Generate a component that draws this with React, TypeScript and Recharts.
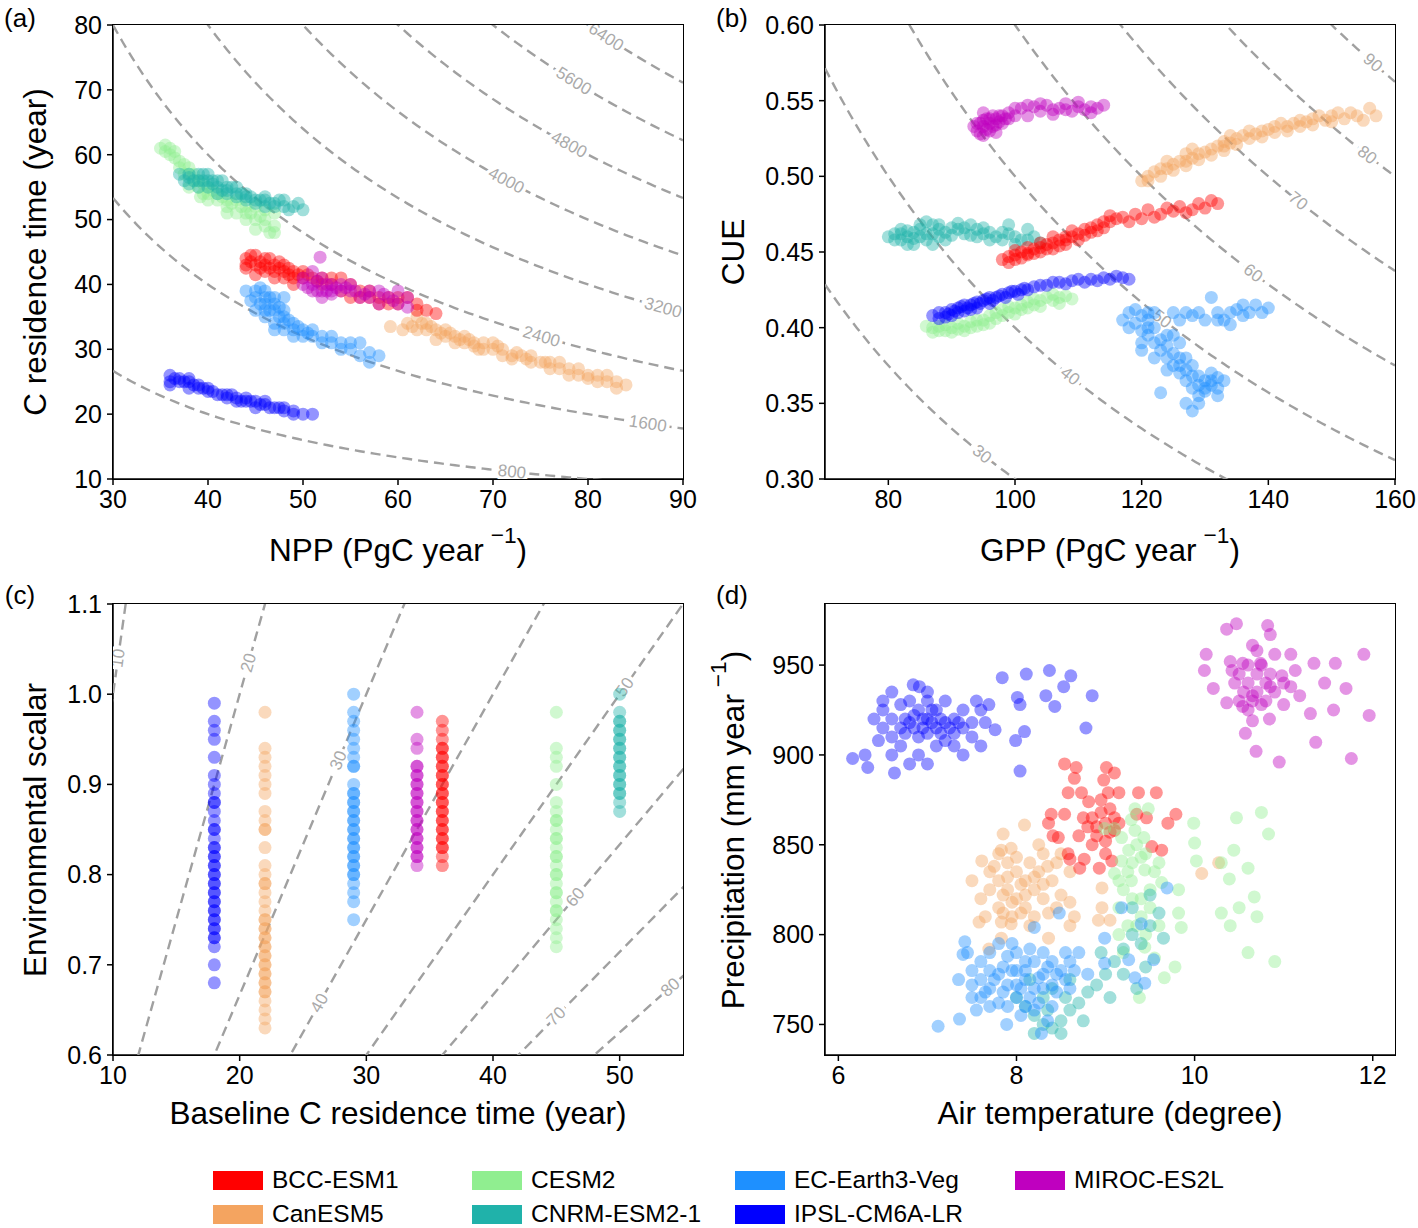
import { ScatterChart, Scatter, XAxis, YAxis } from "recharts";

type Pt = [number, number];

const MODEL_NAMES = ["BCC-ESM1", "CanESM5", "CESM2", "CNRM-ESM2-1", "EC-Earth3-Veg", "IPSL-CM6A-LR", "MIROC-ES2L"];
const MODEL_COLORS = ["#ff0000", "#f4a460", "#90ee90", "#20b2aa", "#1e90ff", "#0000ff", "#bf00bf"];

// (a) NPP vs C residence time
const aBCC: Pt[] = [[44,43],[44,44],[44.5,43.5],[45,43],[45,44.5],[45.5,42.5],[46,43],[46,42],[46.5,44],[47,43],[47,42],[47.5,42.5],[48,42],[48,43],[48.5,41.5],[49,42],[49,41],[50,41],[50,42],[51,41],[52,41],[52,40],[53,40],[54,41],[54,39],[55,40],[55,38],[56,39],[57,39],[57,38],[58,38],[59,38],[60,37],[61,38],[62,37],[63,36],[64,35.5],[45,41.5],[47,41],[49,40],
  [44.5,44.5],[45.5,43.5],[46.5,42.5],[47.5,43.5],[48.5,42.5],[49.5,41.5],[50.5,41.5],[51.5,40.5],[53,41],[56,38],[58,37],[59,37],[60,38],[62,36],[44,42.5],[46,44],[48,41]];
const aCan: Pt[] = [[59.2,33.5],[60.5,33],[61,34],[62,35],[62,33],[63,33],[63,34],[64,33],[65,33],[65,32],[66,32],[66,31],[67,32],[67,31],[68,31],[68.5,30],[69,31],[69,30],[70,30],[70,31],[71,30],[71,29],[72,29],[72,28.5],[73,29],[74,28],[74,29],[75,28],[76,27],[76,28],[77,27],[78,27],[78,26],[79,26],[80,26],[81,26],[81,25],[82,25],[83,25],[83,24],[64,31.5],
  [61.5,33.5],[62.5,34],[63.5,33.5],[64.5,32.5],[65.5,32.5],[66.5,31.5],[67.5,31.5],[68,30.5],[70.5,30.5],[72.5,29.5],[73.5,28.5],[75.5,28],[77,28],[79,27],[80,25.5],[82,26],[84,24.5]];
const aCESM2: Pt[] = [[35,61],[35.5,60.5],[36,60],[36,61],[36.5,59.5],[37,59],[37,58],[37.5,57],[38,57],[38,58],[39,56],[39,55],[39.2,53.5],[39.5,54],[40,55],[40,54],[41,54],[41,53],[42,53],[42,52],[43,53],[43,51],[44,52],[44,51],[44,50],[45,50],[45,52],[45,48.5],[46,50],[46,49],[46.5,48],[47,49],[47,51],
  [35.5,61.5],[36.5,60.5],[37.5,58.5],[38.5,57],[38.5,56],[39.5,55.5],[40.5,54.5],[41.5,53.5],[42.5,52.5],[43.5,52],[44.5,51],[45.5,50.5],[46,51.5],[42,51],[40,53],[38,55],[47,48]];
const aCNRM: Pt[] = [[37,57],[37.5,56],[38,56.5],[38,55.5],[39,56],[39,55],[39.5,57],[40,56],[40,55],[41,55],[41,54],[41.5,56],[42,54.5],[42,54],[43,54],[43,53.5],[44,53.5],[44,53],[45,53],[45,52.5],[46,53],[46,52],[47,52.5],[47,52],[48,53],[48,52],[48.5,51.5],[49,52],[49.5,52.5],[50,51.5],[40.5,55.5],[42.5,55],
  [38.5,56],[39.5,56],[40,57],[40.5,56],[41,56],[42,55],[43,55],[43.5,54],[44.5,53.5],[45.5,53],[46.5,52.5],[47.5,53],[38,57],[39,57],[41.5,54.5],[44,54],[46,53.5]];
const aEC: Pt[] = [[44,39],[45,38],[45,36],[45,39],[46,37],[46,35],[46,38],[47,36],[47,34],[47,37],[47,33],[48,35],[48,33],[48,36],[48,38],[49,34],[49,33],[49,32],[50,33],[50,32],[51,32],[51,33],[52,31],[53,32],[53,31],[54,30],[54,31],[55,30],[56,29],[56,31],[57,28],[58,29],[46.5,36],[47.5,35],
  [44.5,37.5],[45.5,37],[46,36],[46.5,38],[47.5,36.5],[48.5,34.5],[49.5,33.5],[50.5,32.5],[52,32],[55,31],[46,39],[47,38],[45.5,39.5],[48,34],[57,29.5]];
const aIPSL: Pt[] = [[36,26],[36,25],[37,25.5],[37,25],[38,25],[38,24],[39,24],[39,24.5],[40,23.5],[40,24],[41,23],[42,23],[42,22.5],[43,22.5],[43,22],[44,22],[44,22.5],[45,22],[45,21],[46,21.5],[46,22],[47,21],[48,21],[48,20.5],[49,20.5],[50,20],[51,20],
  [36.5,25.5],[37.5,25],[38.5,24.5],[39.5,24],[40.5,23.5],[41.5,23],[42.5,23],[43.5,22],[44.5,22],[45.5,21.5],[46.5,21],[47.5,21],[49,20],[36,24.5],[38,25.5]];
const aMIROC: Pt[] = [[50,40],[50,41],[51,42],[51,40],[51,39],[51.8,44.2],[52,41],[52,39],[52,38],[53,40],[53,39],[54,40],[54,39],[55,40],[55,39],[56,38],[57,39],[57,38],[58,39],[58,37],[59,38],[60,39],[60,37],[61,38],[61,36.5],[51.5,40.5],[52.5,40],
  [51.5,39],[52.5,39],[53.5,39.5],[54.5,39.5],[55.5,39],[56.5,38.5],[58.5,38.5],[59.5,37.5],[53,38.5],[50.5,39.5]];

// (b) GPP vs CUE
const bBCC: Pt[] = [[98,0.445],[99,0.447],[100,0.448],[100,0.445],[101,0.45],[102,0.449],[102,0.453],[103,0.452],[104,0.453],[104,0.45],[105,0.455],[106,0.456],[106,0.452],[107,0.458],[108,0.46],[108,0.455],[109,0.46],[110,0.462],[111,0.465],[112,0.466],[113,0.468],[114,0.47],[115,0.47],[116,0.472],[117,0.473],[119,0.475],[120,0.472],[121,0.478],[123,0.475],[124,0.479],[125,0.477],[126,0.48],[128,0.478],[129,0.482],[131,0.484],[132,0.482],
  [99,0.443],[100,0.451],[101,0.446],[102,0.448],[103,0.449],[104,0.456],[105,0.452],[106,0.46],[107,0.454],[108,0.458],[109,0.464],[110,0.458],[111,0.461],[112,0.463],[113,0.464],[114,0.466],[115,0.474],[118,0.47],[122,0.473],[127,0.476],[130,0.479]];
const bCan: Pt[] = [[120,0.497],[121,0.5],[122,0.503],[123,0.505],[124,0.505],[125,0.508],[126,0.51],[127,0.51],[127,0.515],[128,0.512],[129,0.515],[130,0.516],[131,0.518],[132,0.52],[133,0.52],[133,0.523],[134,0.522],[135,0.525],[136,0.527],[137,0.53],[138,0.528],[139,0.53],[140,0.531],[141,0.533],[142,0.535],[143,0.533],[144,0.535],[145,0.537],[146,0.536],[147,0.538],[148,0.54],[149,0.537],[150,0.54],[151,0.542],[152,0.538],[154,0.54],[156,0.545],[157,0.54],
  [121,0.497],[123,0.5],[125,0.504],[127,0.507],[129,0.511],[131,0.514],[133,0.517],[135,0.521],[137,0.525],[139,0.526],[141,0.529],[143,0.53],[145,0.533],[147,0.534],[150,0.536],[153,0.542],[155,0.537],[124,0.51],[128,0.518],[134,0.527]];
const bCESM2: Pt[] = [[87,0.4],[88,0.401],[89,0.402],[89,0.398],[90,0.4],[91,0.403],[91,0.399],[92,0.401],[93,0.404],[94,0.405],[95,0.405],[95,0.402],[96,0.408],[97,0.41],[98,0.412],[99,0.41],[100,0.413],[101,0.415],[102,0.417],[103,0.415],[104,0.418],[105,0.42],[106,0.418],[107,0.42],[108,0.421],[109,0.419],
  [88,0.398],[90,0.397],[92,0.398],[93,0.4],[94,0.401],[96,0.403],[97,0.406],[98,0.408],[99,0.414],[100,0.409],[101,0.412],[102,0.413],[103,0.419],[104,0.414],[106,0.422],[107,0.416],[86,0.401],[87,0.397]];
const bCNRM: Pt[] = [[80,0.46],[81,0.462],[82,0.465],[82,0.458],[83,0.46],[84,0.463],[84,0.455],[85,0.465],[85,0.46],[86,0.462],[87,0.468],[87,0.455],[88,0.465],[88,0.46],[89,0.463],[90,0.466],[91,0.465],[92,0.462],[93,0.468],[94,0.465],[95,0.462],[96,0.463],[97,0.46],[98,0.458],[99,0.462],[100,0.455],[101,0.458],[102,0.465],[103,0.46],[104,0.456],
  [81,0.458],[82,0.462],[83,0.464],[84,0.459],[85,0.468],[86,0.458],[87,0.462],[88,0.468],[89,0.458],[90,0.461],[91,0.469],[92,0.466],[93,0.461],[94,0.46],[95,0.466],[96,0.458],[98,0.463],[100,0.46],[102,0.458],[99,0.468],[86,0.47],[83,0.455]];
const bEC: Pt[] = [[117,0.405],[118,0.41],[118,0.4],[119,0.403],[120,0.408],[120,0.398],[120,0.385],[121,0.395],[121,0.405],[122,0.39],[122,0.4],[122,0.41],[123,0.392],[123,0.385],[123,0.357],[124,0.388],[124,0.38],[125,0.383],[125,0.375],[125,0.41],[125,0.395],[126,0.38],[126,0.37],[126,0.405],[127,0.372],[127,0.365],[127,0.35],[127,0.41],[128,0.368],[128,0.36],[128,0.345],[128,0.408],[129,0.362],[129,0.355],[129,0.41],[130,0.365],[130,0.36],[130,0.405],[131,0.362],[131,0.42],[132,0.36],[132,0.367],[132,0.41],[133,0.405],[134,0.41],[135,0.412],[136,0.408],[137,0.41],[138,0.415],[140,0.413],
  [119,0.412],[121,0.4],[124,0.395],[126,0.39],[126,0.375],[128,0.375],[129,0.368],[130,0.358],[131,0.365],[132,0.355],[131,0.37],[133,0.365],[129,0.35],[127,0.38],[124,0.372],[122,0.38],[132,0.405],[134,0.402],[136,0.415],[139,0.41],[121,0.41],[120,0.39]];
const bIPSL: Pt[] = [[87,0.408],[88,0.41],[89,0.41],[89,0.407],[90,0.412],[91,0.413],[91,0.41],[92,0.415],[93,0.415],[93,0.412],[94,0.417],[95,0.418],[96,0.42],[97,0.42],[98,0.422],[99,0.423],[100,0.424],[101,0.425],[102,0.425],[103,0.427],[104,0.428],[105,0.428],[106,0.43],[107,0.43],[108,0.429],[109,0.431],[110,0.432],[111,0.43],[112,0.432],[113,0.431],[114,0.433],[115,0.432],[116,0.434],[117,0.433],[118,0.432],
  [88,0.406],[89.5,0.409],[90.5,0.411],[91.5,0.414],[92.5,0.413],[93.5,0.416],[94.5,0.416],[95.5,0.419],[96.5,0.418],[97.5,0.421],[98.5,0.42],[99.5,0.424],[100.5,0.422],[101.5,0.426],[90,0.408],[92,0.411],[94,0.413],[96,0.416]];
const bMIROC: Pt[] = [[94,0.53],[94.5,0.535],[95,0.527],[95,0.533],[95.5,0.538],[96,0.53],[96,0.535],[96.5,0.54],[97,0.534],[97,0.538],[97.5,0.536],[98,0.54],[98.5,0.538],[99,0.542],[100,0.54],[101,0.545],[102,0.54],[103,0.546],[104,0.543],[105,0.547],[106,0.544],[107,0.545],[108,0.548],[109,0.543],[110,0.546],[111,0.544],[112,0.546],[113,0.545],[114,0.547],
  [94,0.535],[94.5,0.528],[95,0.537],[95.5,0.531],[96,0.538],[96.5,0.533],[97,0.529],[97.5,0.54],[98,0.535],[93.5,0.533],[95,0.542],[99,0.538],[100,0.545],[102,0.547],[104,0.548],[106,0.541],[108,0.544],[110,0.549],[112,0.542]];

// (c) baseline residence time vs environmental scalar
const baselineBCC = 36;
const baselineCan = 22;
const baselineCESM2 = 45;
const baselineCNRM = 50;
const baselineEC = 29;
const baselineIPSL = 18;
const baselineMIROC = 34;
const cBCC = [0.97,0.96,0.95,0.94,0.93,0.92,0.91,0.9,0.89,0.88,0.87,0.86,0.85,0.84,0.83,0.82,0.81,0.94,0.93,0.92,0.91,0.9,0.89,0.88,0.87,0.86,0.85,0.84,0.83];
const cCan = [0.98,0.94,0.93,0.92,0.91,0.9,0.89,0.87,0.86,0.85,0.85,0.83,0.81,0.8,0.79,0.79,0.78,0.77,0.76,0.75,0.74,0.73,0.72,0.71,0.7,0.69,0.68,0.67,0.66,0.65,0.64,0.63,0.75,0.74,0.73,0.72,0.71,0.7,0.69,0.68,0.67];
const cCESM2 = [0.98,0.94,0.93,0.92,0.9,0.88,0.87,0.86,0.85,0.84,0.83,0.82,0.81,0.8,0.79,0.78,0.77,0.76,0.75,0.74,0.73,0.72,0.86,0.84,0.82,0.8,0.78,0.76];
const cCNRM = [1.0,0.98,0.97,0.96,0.95,0.94,0.93,0.92,0.91,0.9,0.89,0.88,0.87,0.97,0.96,0.95,0.94,0.93,0.92,0.91,0.9,0.89];
const cEC = [1.0,0.98,0.97,0.96,0.95,0.94,0.93,0.92,0.9,0.89,0.88,0.87,0.86,0.85,0.84,0.83,0.82,0.81,0.8,0.79,0.78,0.77,0.75,0.92,0.89,0.88,0.87,0.86,0.85,0.84,0.83,0.82,0.81,0.8];
const cIPSL = [0.99,0.97,0.96,0.95,0.93,0.91,0.9,0.89,0.88,0.87,0.86,0.85,0.84,0.83,0.82,0.81,0.8,0.79,0.78,0.77,0.76,0.75,0.74,0.73,0.72,0.7,0.68,0.83,0.82,0.81,0.8,0.79,0.78,0.77,0.76,0.75,0.74,0.73,0.88,0.85];
const cMIROC = [0.98,0.95,0.94,0.92,0.91,0.9,0.89,0.88,0.87,0.86,0.85,0.84,0.83,0.82,0.81,0.92,0.91,0.9,0.89,0.88,0.87,0.86,0.85,0.84,0.83,0.82];

// (d) air temperature vs precipitation
const dBCC: Pt[] = [[8.54,895],[8.67,893],[9.01,893],[9.1,890],[8.65,887],[8.98,886],[8.58,879],[8.73,879],[9.03,879],[9.15,879],[9.37,879],[9.57,879],[8.81,874],[8.39,867],[8.54,867],[8.36,862],[8.41,855],[8.47,854],[8.58,845],[8.6,842],[8.76,842],[8.93,837],[8.71,837],[9.35,867],[9.46,865],[9.79,867],[9.7,862],[9.52,849],[9.63,847],[9.07,841],[8.85,865],[8.9,860],[8.95,868],[9.0,862],[9.05,870],[9.1,858],[8.9,855],[9.0,852],[9.1,865],[8.8,860],[9.15,862],[8.95,875],[9.05,857],[8.85,850],[9.0,845],[8.7,855],[8.75,865]];
const dCan: Pt[] = [[8.09,861],[7.85,856],[7.61,841],[7.83,847],[7.94,848],[7.58,807],[7.83,798],[7.69,792],[7.83,807],[7.94,806],[8.6,818],[8.65,810],[8.36,812],[8.36,798],[8.96,815],[9.05,808],[8.92,808],[8.96,826],[10.27,840],[10.08,834],[7.8,830],[7.9,825],[8.0,820],[8.1,830],[8.2,825],[8.0,835],[7.9,840],[8.1,815],[7.8,815],[8.3,820],[7.95,810],[8.15,840],[7.7,825],[8.25,835],[8.05,828],[7.85,822],[8.4,830],[8.3,845],[7.75,838],[8.2,810],[8.5,822],[8.6,835],[8.45,840],[7.5,830],[7.6,820],
  [7.7,835],[7.8,845],[7.9,832],[8.0,843],[8.1,822],[8.2,832],[8.3,828],[7.85,812],[8.05,812],[8.15,805],[8.35,838],[7.95,818],[8.25,850],[8.45,815],[8.6,805],[7.65,810],[8.5,845]];
const dCESM2: Pt[] = [[9.33,870],[9.48,870],[9.29,864],[9.1,859],[8.99,859],[9.18,854],[9.33,858],[9.43,854],[9.26,847],[9.4,843],[9.18,841],[9.1,834],[9.29,830],[9.44,836],[9.6,840],[9.63,829],[9.82,825],[9.99,862],[10.0,851],[10.02,841],[10.3,840],[10.47,865],[10.75,868],[10.83,856],[10.44,847],[10.6,837],[10.39,831],[10.67,821],[10.5,815],[10.3,812],[10.4,805],[10.6,790],[10.9,785],[10.7,810],[9.15,830],[9.15,815],[9.15,800],[9.82,812],[9.85,804],[9.78,782],[9.66,776],[9.38,765],[9.55,787],[9.44,793],[9.3,820],[9.4,810],[9.5,825],[9.25,805],[9.35,850],[9.2,790],
  [9.3,840],[9.45,845],[9.2,825],[9.5,815],[9.35,805],[9.25,835],[9.55,835],[9.4,820],[9.6,805],[9.45,800]];
const dCNRM: Pt[] = [[8.1,760],[8.2,755],[8.3,750],[8.4,748],[8.5,752],[8.3,765],[8.6,758],[8.7,762],[8.4,770],[8.8,768],[8.9,772],[9.0,778],[8.2,745],[8.5,745],[8.0,765],[8.6,775],[9.1,785],[9.2,792],[9.3,800],[9.4,795],[9.5,805],[9.6,812],[9.3,815],[9.45,782],[9.2,778],[8.95,790],[9.05,765],[9.35,770],[8.75,752],[9.5,822],[9.65,798],[8.15,775],[8.35,758],[8.55,765]];
const dEC: Pt[] = [[7.12,749],[7.36,753],[7.42,796],[7.4,789],[7.89,750],[8.28,745],[8.48,812],[8.2,804],[8.99,798],[9.18,815],[9.69,826],[9.4,806],[9.54,786],[9.26,786],[8.99,784],[9.33,776],[9.44,773],[7.5,780],[7.6,775],[7.7,770],[7.8,778],[7.9,772],[8.0,780],[8.1,775],[8.2,770],[8.3,778],[8.4,772],[8.0,765],[8.1,760],[7.8,762],[7.6,785],[7.7,760],[8.2,785],[8.3,790],[7.9,788],[8.4,760],[8.5,780],[8.6,785],[8.7,790],[7.5,765],[7.55,758],[8.05,755],[8.25,762],[7.95,795],[8.15,792],[8.35,782],[8.45,768],[8.6,770],[8.8,778],[7.7,790],[7.65,768],[8.0,772],[8.1,780],[7.85,768],[8.25,776],
  [7.6,765],[7.75,775],[7.85,782],[8.05,770],[8.15,765],[8.3,770],[8.45,778],[8.55,775],[7.9,760],[8.2,758],[8.35,752],[7.7,780],[7.8,795],[8.0,790],[8.1,785],[8.4,785],[8.55,790],[8.65,780],[7.5,772],[7.35,775],[7.45,790],[7.95,780]];
const dIPSL: Pt[] = [[6.16,898],[6.3,900],[6.33,893],[6.63,890],[6.84,939],[6.91,938],[7.84,943],[8.11,945],[8.37,947],[8.61,944],[8.53,938],[8.33,933],[8.43,927],[8.85,933],[8.78,915],[8.04,891],[8.04,928],[8.09,913],[7.99,908],[7.76,914],[7.69,928],[8.01,932],[7.65,918],[6.5,925],[6.6,920],[6.7,915],[6.8,918],[6.9,925],[7.0,920],[7.0,912],[7.1,915],[7.1,925],[7.2,918],[7.2,908],[7.3,920],[7.3,912],[7.4,915],[7.4,925],[7.5,918],[7.5,910],[6.8,930],[6.9,910],[6.7,905],[6.6,910],[6.5,915],[7.0,930],[7.2,930],[7.3,905],[6.9,900],[7.1,905],[7.6,905],[6.4,920],[6.5,930],[7.6,925],[6.7,928],[7.0,935],[6.6,900],[6.95,915],[7.05,918],[6.85,922],[7.15,920],[6.75,912],[7.25,915],[6.8,895],[7.4,900],[7.0,895],[6.6,935],[6.45,908],[7.55,930],
  [6.85,915],[7.05,925],[7.15,912],[6.95,920],[7.35,918],[6.75,920]];
const dMIROC: Pt[] = [[10.47,973],[10.36,970],[10.13,956],[10.11,947],[10.21,937],[10.36,929],[10.57,912],[10.69,902],[10.95,896],[11.36,907],[11.76,898],[11.9,956],[11.96,922],[11.58,951],[11.46,940],[11.7,937],[11.56,925],[11.34,951],[11.13,947],[11.18,933],[11.08,938],[11.3,923],[10.85,967],[10.82,972],[11.08,956],[11.0,928],[10.84,920],[10.65,919],[10.54,927],[10.42,947],[10.65,961],[10.9,956],[10.98,944],[10.74,951],[10.54,951],[10.85,938],[10.75,928],[10.65,933],[10.5,945],[10.6,940],[10.7,935],[10.6,950],[10.7,945],[10.8,940],[10.55,935],[10.65,930],[10.75,950],[10.45,940],[10.9,935],[10.85,945],[10.6,925],[11.0,940],[10.4,952],[10.7,958],[10.5,930],[10.8,930]];

// contour levels and where their labels sit (x position on the curve)
const stockLevels = [800, 1600, 2400, 3200, 4000, 4800, 5600, 6400];
const stockLabelX = [72, 86.3, 75.1, 87.9, 71.4, 78, 78.5, 81.9];
const nppLevels = [30, 40, 50, 60, 70, 80, 90];
const nppLabelX = [94.8, 108.7, 123.2, 137.6, 144.7, 155.6, 156.5];
const tauLevels = [10, 20, 30, 40, 50, 60, 70, 80];
const tauLabelX = [10.4, 20.7, 27.8, 26.3, 50.4, 46.5, 45, 54];

const PLOT_W = 570;
const FONT = "'Liberation Sans', Arial, sans-serif";

type XY = { x: number; y: number };
type LabelPt = XY & { text: string; angle: number };

const toXY = (pts: Pt[]): XY[] => pts.map(([x, y]) => ({ x, y }));
const column = (x: number, ys: number[]): XY[] => ys.map((y) => ({ x, y }));

const hyperbola = (level: number, x0: number, x1: number): XY[] => {
  const out: XY[] = [];
  for (let x = x0; x <= x1 + 1e-9; x += 0.5) out.push({ x, y: level / x });
  return out;
};

interface Series { name: string; color: string; data: XY[] }
interface PanelProps {
  left: number;
  top: number;
  plotH: number;
  xDomain: [number, number];
  yDomain: [number, number];
  xTicks: number[];
  yTicks: number[];
  yFmt?: (v: number) => string;
  contours: XY[][];
  labels: LabelPt[];
  series: Series[];
}

const tickStyle = { fontSize: 25, fill: "#000", fontFamily: FONT };
const axisLine = { stroke: "#000", strokeWidth: 1.5 };

const Panel = ({ left, top, plotH, xDomain, yDomain, xTicks, yTicks, yFmt, contours, labels, series }: PanelProps) => (
  <div style={{ position: "absolute", left, top, width: 706, height: 560 }}>
    <ScatterChart width={706} height={560} margin={{ top: 25, right: 23, bottom: 0, left: 0 }}>
      <XAxis type="number" dataKey="x" domain={xDomain} ticks={xTicks} interval={0} allowDataOverflow
        height={560 - 25 - plotH} tick={tickStyle} tickSize={6} tickMargin={5} axisLine={axisLine} tickLine={axisLine} />
      <YAxis type="number" dataKey="y" domain={yDomain} ticks={yTicks} interval={0} allowDataOverflow
        width={113} tick={tickStyle} tickSize={6} tickMargin={5} tickFormatter={yFmt} axisLine={axisLine} tickLine={axisLine} />
      {contours.map((c, i) => (
        <Scatter key={"c" + i} data={c} isAnimationActive={false} lineType="joint"
          line={{ stroke: "#a0a0a0", strokeWidth: 2.4, strokeDasharray: "10 6" }} shape={() => <g />} />
      ))}
      <Scatter data={labels} isAnimationActive={false}
        shape={(p: any) => (
          <text x={p.cx} y={p.cy} transform={`rotate(${p.payload.angle} ${p.cx} ${p.cy})`} textAnchor="middle"
            dominantBaseline="central" fontSize={17} fontFamily={FONT} fill="#aaaaaa" stroke="#fff" strokeWidth={7}
            paintOrder="stroke">{p.payload.text}</text>
        )} />
      {series.map((s) => (
        <Scatter key={s.name} name={s.name} data={s.data} isAnimationActive={false}
          shape={(p: any) => <circle cx={p.cx} cy={p.cy} r={6.5} fill={s.color} fillOpacity={0.42} />} />
      ))}
    </ScatterChart>
    {/* closed box around the plot area */}
    <div style={{ position: "absolute", left: 112.25, top: 24.25, width: PLOT_W + 1.5, height: plotH + 1.5,
      border: "1.5px solid #000", boxSizing: "border-box", pointerEvents: "none" }} />
  </div>
);

const deg = (r: number) => (r * 180) / Math.PI;

// pixel scale of each panel, for rotating the contour labels
const kxA = PLOT_W / 60, kyA = 454 / 70;
const kxB = PLOT_W / 90, kyB = 454 / 0.3;
const kxC = PLOT_W / 45, kyC = 451 / 0.5;

const contoursA = stockLevels.map((l) => hyperbola(l, 30, 90));
const labelsA: LabelPt[] = stockLevels.map((l, i) => {
  const x = stockLabelX[i];
  return { x, y: l / x, text: String(l), angle: deg(Math.atan(((l / (x * x)) * kyA) / kxA)) };
});
const contoursB = nppLevels.map((l) => hyperbola(l, 70, 160));
const labelsB: LabelPt[] = nppLevels.map((l, i) => {
  const x = nppLabelX[i];
  return { x, y: l / x, text: String(l), angle: deg(Math.atan(((l / (x * x)) * kyB) / kxB)) };
});
const contoursC = tauLevels.map((k) => [{ x: 0, y: 0 }, { x: 60, y: 60 / k }]);
const labelsC: LabelPt[] = tauLevels.map((k, i) => {
  const x = tauLabelX[i];
  return { x, y: x / k, text: String(k), angle: -deg(Math.atan(((1 / k) * kyC) / kxC)) };
});

const seriesA: Series[] = [
  { name: MODEL_NAMES[2], color: MODEL_COLORS[2], data: toXY(aCESM2) },
  { name: MODEL_NAMES[3], color: MODEL_COLORS[3], data: toXY(aCNRM) },
  { name: MODEL_NAMES[4], color: MODEL_COLORS[4], data: toXY(aEC) },
  { name: MODEL_NAMES[1], color: MODEL_COLORS[1], data: toXY(aCan) },
  { name: MODEL_NAMES[0], color: MODEL_COLORS[0], data: toXY(aBCC) },
  { name: MODEL_NAMES[6], color: MODEL_COLORS[6], data: toXY(aMIROC) },
  { name: MODEL_NAMES[5], color: MODEL_COLORS[5], data: toXY(aIPSL) },
];
const seriesB: Series[] = [
  { name: MODEL_NAMES[2], color: MODEL_COLORS[2], data: toXY(bCESM2) },
  { name: MODEL_NAMES[3], color: MODEL_COLORS[3], data: toXY(bCNRM) },
  { name: MODEL_NAMES[4], color: MODEL_COLORS[4], data: toXY(bEC) },
  { name: MODEL_NAMES[1], color: MODEL_COLORS[1], data: toXY(bCan) },
  { name: MODEL_NAMES[0], color: MODEL_COLORS[0], data: toXY(bBCC) },
  { name: MODEL_NAMES[6], color: MODEL_COLORS[6], data: toXY(bMIROC) },
  { name: MODEL_NAMES[5], color: MODEL_COLORS[5], data: toXY(bIPSL) },
];
const seriesC: Series[] = [
  { name: MODEL_NAMES[0], color: MODEL_COLORS[0], data: column(baselineBCC, cBCC) },
  { name: MODEL_NAMES[1], color: MODEL_COLORS[1], data: column(baselineCan, cCan) },
  { name: MODEL_NAMES[2], color: MODEL_COLORS[2], data: column(baselineCESM2, cCESM2) },
  { name: MODEL_NAMES[3], color: MODEL_COLORS[3], data: column(baselineCNRM, cCNRM) },
  { name: MODEL_NAMES[4], color: MODEL_COLORS[4], data: column(baselineEC, cEC) },
  { name: MODEL_NAMES[5], color: MODEL_COLORS[5], data: column(baselineIPSL, cIPSL) },
  { name: MODEL_NAMES[6], color: MODEL_COLORS[6], data: column(baselineMIROC, cMIROC) },
];
const seriesD: Series[] = [
  { name: MODEL_NAMES[5], color: MODEL_COLORS[5], data: toXY(dIPSL) },
  { name: MODEL_NAMES[6], color: MODEL_COLORS[6], data: toXY(dMIROC) },
  { name: MODEL_NAMES[1], color: MODEL_COLORS[1], data: toXY(dCan) },
  { name: MODEL_NAMES[0], color: MODEL_COLORS[0], data: toXY(dBCC) },
  { name: MODEL_NAMES[2], color: MODEL_COLORS[2], data: toXY(dCESM2) },
  { name: MODEL_NAMES[3], color: MODEL_COLORS[3], data: toXY(dCNRM) },
  { name: MODEL_NAMES[4], color: MODEL_COLORS[4], data: toXY(dEC) },
];

const Txt = ({ x, y, size, rotate = 0, children }: { x: number; y: number; size: number; rotate?: number; children: any }) => (
  <div style={{ position: "absolute", left: x, top: y, transform: `translate(-50%, -50%) rotate(${rotate}deg)`,
    fontSize: size, whiteSpace: "nowrap", lineHeight: 1, color: "#000" }}>{children}</div>
);

const Sup = () => <sup style={{ fontSize: "0.72em", marginLeft: 7, verticalAlign: "0.8em", lineHeight: 0 }}>−1</sup>;

const legendCols = [[0, 1], [2, 3], [4, 5], [6]];
const legendX = [213, 472, 735, 1015];

const App = () => (
  <div style={{ position: "absolute", left: 0, top: 0, width: 1418, height: 1228, background: "#fff", fontFamily: FONT, overflow: "hidden" }}>
    <Panel left={0} top={0} plotH={454} xDomain={[30, 90]} yDomain={[10, 80]}
      xTicks={[30, 40, 50, 60, 70, 80, 90]} yTicks={[10, 20, 30, 40, 50, 60, 70, 80]}
      contours={contoursA} labels={labelsA} series={seriesA} />
    <Panel left={712} top={0} plotH={454} xDomain={[70, 160]} yDomain={[0.3, 0.6]}
      xTicks={[80, 100, 120, 140, 160]} yTicks={[0.3, 0.35, 0.4, 0.45, 0.5, 0.55, 0.6]} yFmt={(v) => v.toFixed(2)}
      contours={contoursB} labels={labelsB} series={seriesB} />
    <Panel left={0} top={579} plotH={451} xDomain={[10, 55]} yDomain={[0.6, 1.1]}
      xTicks={[10, 20, 30, 40, 50]} yTicks={[0.6, 0.7, 0.8, 0.9, 1.0, 1.1]} yFmt={(v) => v.toFixed(1)}
      contours={contoursC} labels={labelsC} series={seriesC} />
    <Panel left={712} top={579} plotH={451} xDomain={[5.85, 12.25]} yDomain={[733, 984]}
      xTicks={[6, 8, 10, 12]} yTicks={[750, 800, 850, 900, 950]}
      contours={[]} labels={[]} series={seriesD} />

    <Txt x={20} y={18} size={26}>(a)</Txt>
    <Txt x={732} y={18} size={26}>(b)</Txt>
    <Txt x={20} y={595} size={26}>(c)</Txt>
    <Txt x={732} y={595} size={26}>(d)</Txt>

    <Txt x={398} y={551} size={31.5}>NPP (PgC year<Sup />)</Txt>
    <Txt x={36} y={252} size={31.5} rotate={-90}>C residence time (year)</Txt>
    <Txt x={1110} y={551} size={31.5}>GPP (PgC year<Sup />)</Txt>
    <Txt x={734} y={252} size={31.5} rotate={-90}>CUE</Txt>
    <Txt x={398} y={1114} size={31.5}>Baseline C residence time (year)</Txt>
    <Txt x={36} y={830} size={31.5} rotate={-90}>Environmental scalar</Txt>
    <Txt x={1110} y={1114} size={31.5}>Air temperature (degree)</Txt>
    <Txt x={734} y={830} size={31.5} rotate={-90}>Precipitation (mm year<Sup />)</Txt>

    {legendCols.map((col, ci) =>
      col.map((mi, ri) => (
        <div key={mi} style={{ position: "absolute", left: legendX[ci], top: 1170 + ri * 34, display: "flex", alignItems: "center", height: 20 }}>
          <div style={{ width: 50, height: 19, background: MODEL_COLORS[mi] }} />
          <span style={{ marginLeft: 9, fontSize: 24.5, lineHeight: 1 }}>{MODEL_NAMES[mi]}</span>
        </div>
      ))
    )}
  </div>
);

export default App;
